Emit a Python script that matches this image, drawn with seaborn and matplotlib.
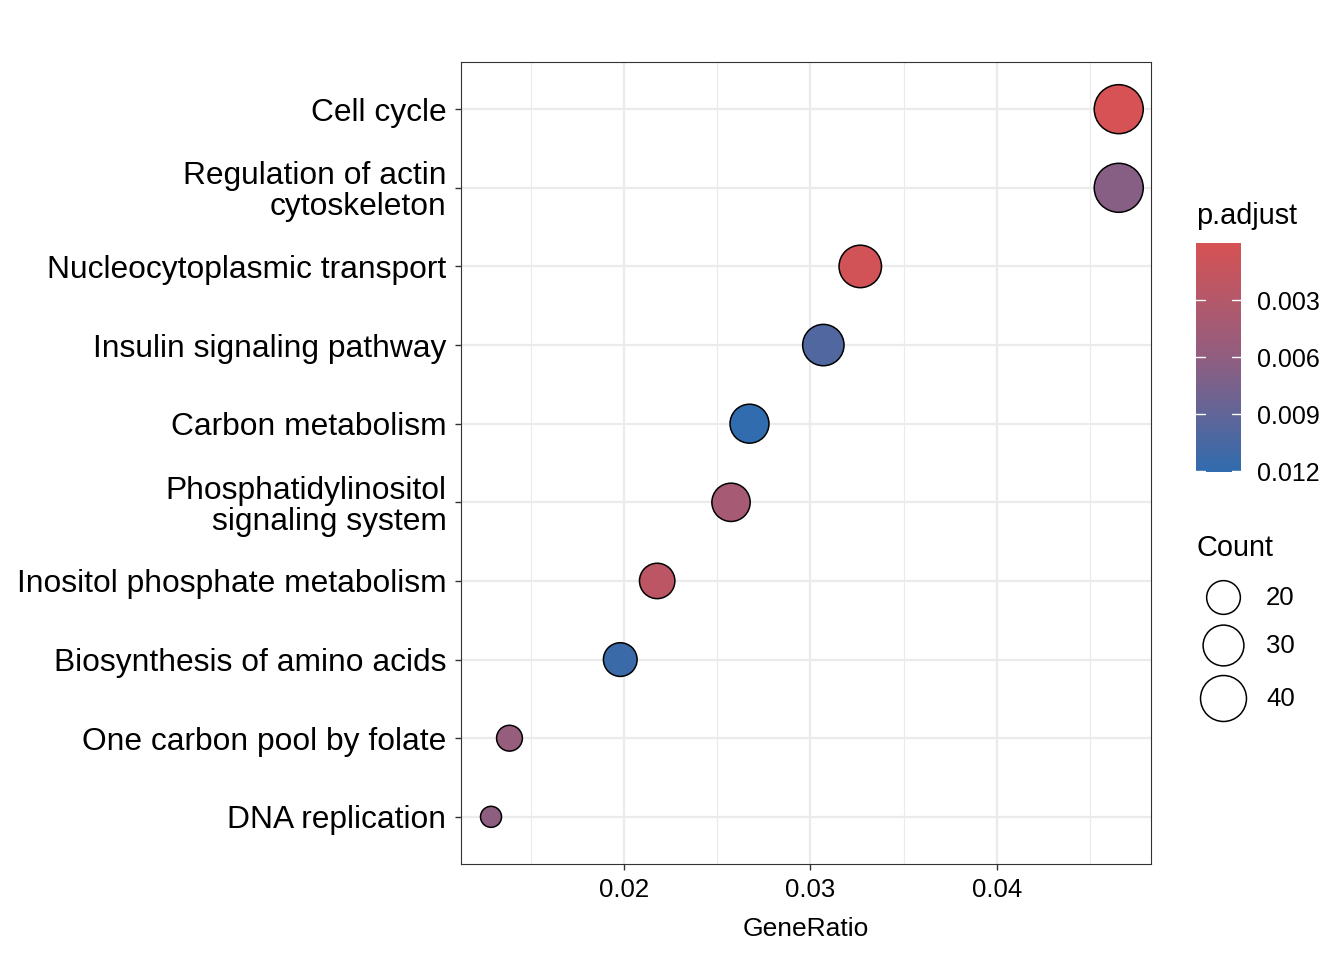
import numpy as np
import pandas as pd
import matplotlib
matplotlib.use("Agg")
import matplotlib.pyplot as plt
import seaborn as sns
from matplotlib.colors import LinearSegmentedColormap, Normalize
import matplotlib.colorbar as mcolorbar

# ---- data ----
terms = ["Cell cycle", "Regulation of actin\ncytoskeleton", "Nucleocytoplasmic transport",
         "Insulin signaling pathway", "Carbon metabolism",
         "Phosphatidylinositol\nsignaling system", "Inositol phosphate metabolism",
         "Biosynthesis of amino acids", "One carbon pool by folate", "DNA replication"]
gene_ratio = [0.04653, 0.04653, 0.03267, 0.03069, 0.02673, 0.02574, 0.02178, 0.01980, 0.01386, 0.01287]
counts = [47, 47, 33, 31, 27, 26, 22, 20, 14, 13]
p_adjust = [0.00001, 0.0066, 0.0004, 0.0100, 0.01200, 0.0042, 0.0022, 0.0113, 0.0056, 0.0062]
x_ticks = [0.02, 0.03, 0.04]
x_tick_labels = ["0.02", "0.03", "0.04"]
cbar_ticks = [0.003, 0.006, 0.009, 0.012]
cbar_labels = ["0.003", "0.006", "0.009", "0.012"]
size_legend_vals = [20, 30, 40]

df = pd.DataFrame({"Description": terms, "GeneRatio": gene_ratio,
                   "Count": counts, "p.adjust": p_adjust})

FONT = "Liberation Sans"
sns.set_theme(style="white")
plt.rcParams["font.family"] = [FONT, "DejaVu Sans"]

W, H = 1344, 960
fig = plt.figure(figsize=(W / 100, H / 100), dpi=100)
ax = fig.add_axes([461 / W, 1 - 864 / H, (1151 - 461) / W, (864 - 62) / H])

cmap = LinearSegmentedColormap.from_list("padj", ["#D65254", "#915E80", "#306CAF"])
vmin, vmax = 0.0, 0.01205
norm = Normalize(vmin=vmin, vmax=vmax)

# size mapping (area palette): diameter in px
cmin, cmax = min(counts), max(counts)
dmin_px, dmax_px = 21.0, 49.0
def diam_px(c):
    return dmin_px + (dmax_px - dmin_px) * np.sqrt((c - cmin) / (cmax - cmin))
def s_of(c):
    return (diam_px(c) * 0.72) ** 2

sizes = {c: s_of(c) for c in sorted(set(counts))}

ax.set_axisbelow(True)
sns.scatterplot(data=df, x="GeneRatio", y="Description", hue="p.adjust", palette=cmap,
                hue_norm=norm, size="Count", sizes=sizes, edgecolor="black",
                linewidth=1.1, legend=False, ax=ax, zorder=3)

ax.set_xlim(0.01126, 0.04826)
ax.set_ylim(len(terms) - 0.4, -0.6)
ax.xaxis.set_major_locator(matplotlib.ticker.FixedLocator(x_ticks))
ax.xaxis.set_minor_locator(matplotlib.ticker.FixedLocator([0.015, 0.025, 0.035, 0.045]))
ax.set_xticklabels(x_tick_labels, fontsize=18.5)
ax.grid(which="major", color="#EBEBEB", linewidth=1.6)
ax.grid(which="minor", axis="x", color="#EBEBEB", linewidth=0.8)
for sp in ax.spines.values():
    sp.set_color("#333333")
    sp.set_linewidth(0.8)

ax.tick_params(axis="x", which="major", length=4.5, width=1.0, color="#333333",
               pad=5.5, labelcolor="black", bottom=True)
ax.tick_params(axis="x", which="minor", length=0, bottom=False)
ax.tick_params(axis="y", length=4.5, width=1.0, color="#333333", labelsize=22.9,
               pad=6, labelcolor="black", left=True)
for lab in ax.get_yticklabels():
    lab.set_linespacing(1.05)
ax.set_xlabel("GeneRatio", fontsize=19.0, color="black", labelpad=11)
ax.set_ylabel("")

# ---- colorbar ----
cax = fig.add_axes([1196 / W, 1 - 472 / H, 45 / W, (472 - 243) / H])
cb = mcolorbar.ColorbarBase(cax, cmap=cmap, norm=norm, orientation="vertical")
cax.invert_yaxis()
cb.set_ticks(cbar_ticks)
cb.set_ticklabels(cbar_labels)
cb.outline.set_visible(False)
cax.tick_params(axis="y", length=0, pad=11.5, labelcolor="black", labelsize=18)
for t in cbar_ticks:
    cax.plot([0, 0.2], [t, t], color="white", lw=1.0, transform=cax.get_yaxis_transform())
    cax.plot([0.8, 1.0], [t, t], color="white", lw=1.0, transform=cax.get_yaxis_transform())
fig.text(1196 / W, 1 - 216 / H, "p.adjust", fontsize=20.8, ha="left", va="center", color="black")

# ---- size legend ----
fig.text(1196 / W, 1 - 548 / H, "Count", fontsize=20.8, ha="left", va="center", color="black")
lax = fig.add_axes([1180 / W, 1 - 730 / H, 150 / W, (730 - 570) / H])
lax.set_xlim(0, 150)
lax.set_ylim(730, 570)
lax.axis("off")
leg_y = [597, 645, 698]
for v, yy in zip(size_legend_vals, leg_y):
    lax.scatter([1223 - 1180], [yy], s=s_of(v), facecolor="white", edgecolor="black", linewidth=1.1)
    lax.text(1266 - 1180, yy + 1, str(v), fontsize=18.5, ha="left", va="center", color="black")

fig.savefig("out.png", dpi=100)
